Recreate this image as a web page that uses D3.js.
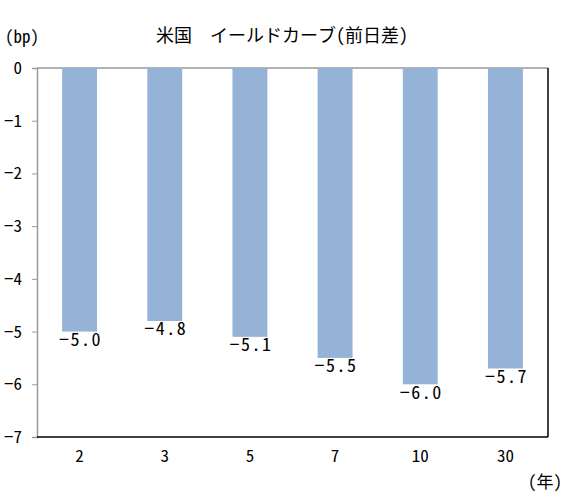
<!DOCTYPE html>
<html>
<head>
<meta charset="utf-8">
<script src="https://cdn.jsdelivr.net/npm/d3@7"></script>
<style>
  body { margin: 0; background: #fff; }
  text { font-family: "Noto Sans Mono CJK JP", "Noto Sans CJK JP", sans-serif; fill: #000; }
</style>
</head>
<body>
<div id="chart"></div>
<script>
const categories = ["2", "3", "5", "7", "10", "30"];
const values = [-5.0, -4.8, -5.1, -5.5, -6.0, -5.7];
const yTicks = [0, -1, -2, -3, -4, -5, -6, -7];

const W = 568, H = 498;
const plot = { left: 37, right: 548, top: 68, bottom: 437 };

const svg = d3.select("#chart").append("svg")
  .attr("width", W)
  .attr("height", H);

const x = d3.scaleBand().domain(categories).range([plot.left, plot.right]).paddingInner(0.59).paddingOuter(0.295);
const y = d3.scaleLinear().domain([-7, 0]).range([plot.bottom, plot.top]);
const minus = v => String(v).replace("-", "\u2212");

// frame: top gray, right black
svg.append("line").attr("x1", plot.left).attr("x2", plot.right).attr("y1", plot.top).attr("y2", plot.top)
  .attr("stroke", "#999").attr("stroke-width", 1.5);
svg.append("line").attr("x1", plot.right).attr("x2", plot.right).attr("y1", plot.top).attr("y2", plot.bottom)
  .attr("stroke", "#000").attr("stroke-width", 1.5);

// bars
svg.selectAll(".bar").data(values).enter()
  .append("rect")
    .classed("bar", true)
    .attr("x", (d, i) => x(categories[i]))
    .attr("y", y(0))
    .attr("width", x.bandwidth())
    .attr("height", d => y(d) - y(0))
    .attr("fill", "#95b3d7");

// y axis
const yAxis = svg.append("g")
  .attr("transform", `translate(${plot.left},0)`)
  .call(d3.axisLeft(y).tickValues(yTicks).tickSize(5).tickPadding(10).tickFormat(d => minus(d)));
yAxis.select(".domain").attr("stroke", "#999").attr("stroke-width", 1.5);
yAxis.selectAll(".tick line").attr("stroke", "#999");
yAxis.selectAll(".tick text").attr("font-size", 17).style("fill", "#000");

// x axis line
svg.append("line").attr("x1", plot.left).attr("x2", plot.right).attr("y1", plot.bottom).attr("y2", plot.bottom)
  .attr("stroke", "#000").attr("stroke-width", 1.5);

// x labels
const xAxis = svg.append("g")
  .attr("transform", `translate(0,${plot.bottom})`)
  .call(d3.axisBottom(x).tickSize(0).tickPadding(13));
xAxis.select(".domain").remove();
xAxis.selectAll(".tick text").attr("font-size", 17).style("fill", "#000");

// value labels, just below the end of each bar
svg.selectAll(".val").data(values).enter()
  .append("text")
    .classed("val", true)
    .attr("x", (d, i) => x(categories[i]) + x.bandwidth() / 2 + 1)
    .attr("y", d => y(d) + 8)
    .attr("dy", "0.35em")
    .attr("text-anchor", "middle")
    .attr("font-size", 18)
    .attr("letter-spacing", 1.5)
    .text(d => minus(d.toFixed(1)));

// titles
svg.append("text").attr("x", 282).attr("y", 36).attr("dy", "0.35em")
  .attr("text-anchor", "middle").attr("font-size", 18)
  .text("米国　イールドカーブ(前日差)");
svg.append("text").attr("x", 5).attr("y", 37).attr("dy", "0.35em")
  .attr("font-size", 17).text("(bp)");
svg.append("text").attr("x", 528).attr("y", 482).attr("dy", "0.35em")
  .attr("font-size", 17).text("(年)");
</script>
</body>
</html>
